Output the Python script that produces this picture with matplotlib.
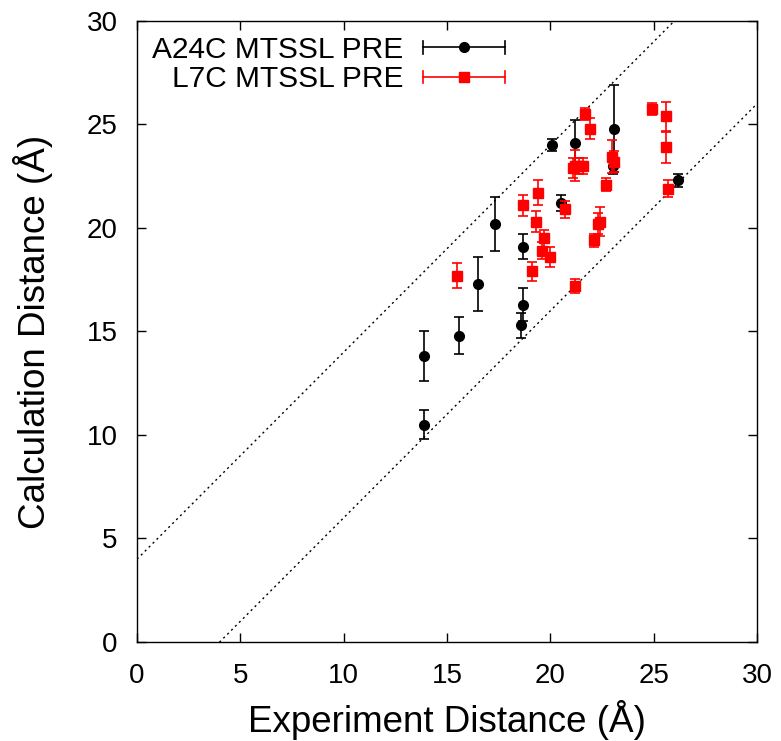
import matplotlib
matplotlib.use("Agg")
import matplotlib.pyplot as plt
from matplotlib.legend_handler import HandlerBase
from matplotlib.lines import Line2D
import numpy as np

plt.rcParams['font.family'] = ['Liberation Sans', 'DejaVu Sans']

# A24C MTSSL PRE (black circles)
a24c_x = [20.1, 21.2, 23.1, 23.05, 26.2, 20.5, 17.3, 18.7, 16.5, 18.7, 18.6, 15.6, 13.9, 13.9]
a24c_y = [24.0, 24.1, 24.8, 23.0, 22.3, 21.2, 20.2, 19.1, 17.3, 16.3, 15.3, 14.8, 13.8, 10.5]
a24c_e = [0.3, 1.1, 2.1, 0.4, 0.3, 0.4, 1.3, 0.6, 1.3, 0.8, 0.6, 0.9, 1.2, 0.7]

# L7C MTSSL PRE (red squares)
l7c_x = [15.5, 19.1, 21.2, 18.7, 19.4, 19.3, 19.7, 19.6, 20.0, 20.7, 22.1, 22.3, 22.4,
         22.7, 21.1, 21.2, 21.4, 21.6, 21.7, 21.9, 23.0, 23.1, 24.9, 25.6, 25.6, 25.7]
l7c_y = [17.7, 17.9, 17.2, 21.1, 21.7, 20.3, 19.5, 18.9, 18.6, 20.9, 19.4, 20.2, 20.3,
         22.1, 22.9, 23.0, 23.0, 23.0, 25.5, 24.8, 23.45, 23.2, 25.75, 25.4, 23.9, 21.9]
l7c_e = [0.6, 0.45, 0.35, 0.5, 0.6, 0.5, 0.4, 0.4, 0.5, 0.4, 0.3, 0.5, 0.7,
         0.3, 0.5, 0.75, 0.4, 0.4, 0.3, 0.5, 0.8, 0.5, 0.3, 0.7, 0.75, 0.4]

band_offset = 4.0
x_ticks = [0, 5, 10, 15, 20, 25, 30]
y_ticks = [0, 5, 10, 15, 20, 25, 30]


class HorizErrHandler(HandlerBase):
    def __init__(self, color, marker, ms, **kw):
        super().__init__(**kw)
        self.color = color
        self.marker = marker
        self.ms = ms

    def create_artists(self, legend, orig_handle, xdescent, ydescent, width, height, fontsize, trans):
        y = height / 2 - ydescent
        x0, x1 = -xdescent, width - xdescent
        cap = 4.5
        arts = [
            Line2D([x0, x1], [y, y], color=self.color, lw=1.2),
            Line2D([x0, x0], [y - cap, y + cap], color=self.color, lw=1.2),
            Line2D([x1, x1], [y - cap, y + cap], color=self.color, lw=1.2),
            Line2D([(x0 + x1) / 2], [y], color=self.color, marker=self.marker,
                   markersize=self.ms, linestyle='none'),
        ]
        for a in arts:
            a.set_transform(trans)
        return arts


fig = plt.figure(figsize=(7.81, 7.41), dpi=100)
ax = fig.add_axes([0.1754, 0.1336, 0.7939, 0.8381])

xx = np.array([0, 30])
ax.plot(xx, xx + band_offset, color='black', lw=1.0, linestyle=(0, (1.5, 2.5)))
ax.plot(xx, xx - band_offset, color='black', lw=1.0, linestyle=(0, (1.5, 2.5)))

h1 = ax.errorbar(a24c_x, a24c_y, yerr=a24c_e, fmt='o', color='black', ms=7,
                 capsize=3.5, elinewidth=1.2, capthick=1.2, zorder=3)
h2 = ax.errorbar(l7c_x, l7c_y, yerr=l7c_e, fmt='s', color='#ff0000', ms=6.5,
                 capsize=3.5, elinewidth=1.2, capthick=1.2, zorder=4)

ax.set_xlim(0, 30)
ax.set_ylim(0, 30)
ax.set_xticks(x_ticks)
ax.set_yticks(y_ticks)
ax.tick_params(direction='in', top=True, right=True, length=6.5, width=1.0,
               labelsize=20)
ax.tick_params(axis='x', pad=15)
ax.tick_params(axis='y', pad=14)
for s in ax.spines.values():
    s.set_linewidth(1.0)

ax.set_xlabel('Experiment Distance (Å)', fontsize=26.5, labelpad=8)
ax.set_ylabel('Calculation Distance (Å)', fontsize=26.5, labelpad=24)

leg = ax.legend([h1, h2], ['A24C MTSSL PRE', 'L7C MTSSL PRE'],
                handler_map={h1: HorizErrHandler('black', 'o', 7),
                             h2: HorizErrHandler('#ff0000', 's', 6.5)},
                loc='upper left', bbox_to_anchor=(0.0, 1.0), frameon=False,
                fontsize=21.5, markerfirst=False, handlelength=2.75, handletextpad=0.65,
                labelspacing=0.05, borderaxespad=0.1)
for t in leg.get_texts():
    t.set_ha('right')
leg._legend_box.align = 'right'

fig.savefig('out.png', dpi=100)
